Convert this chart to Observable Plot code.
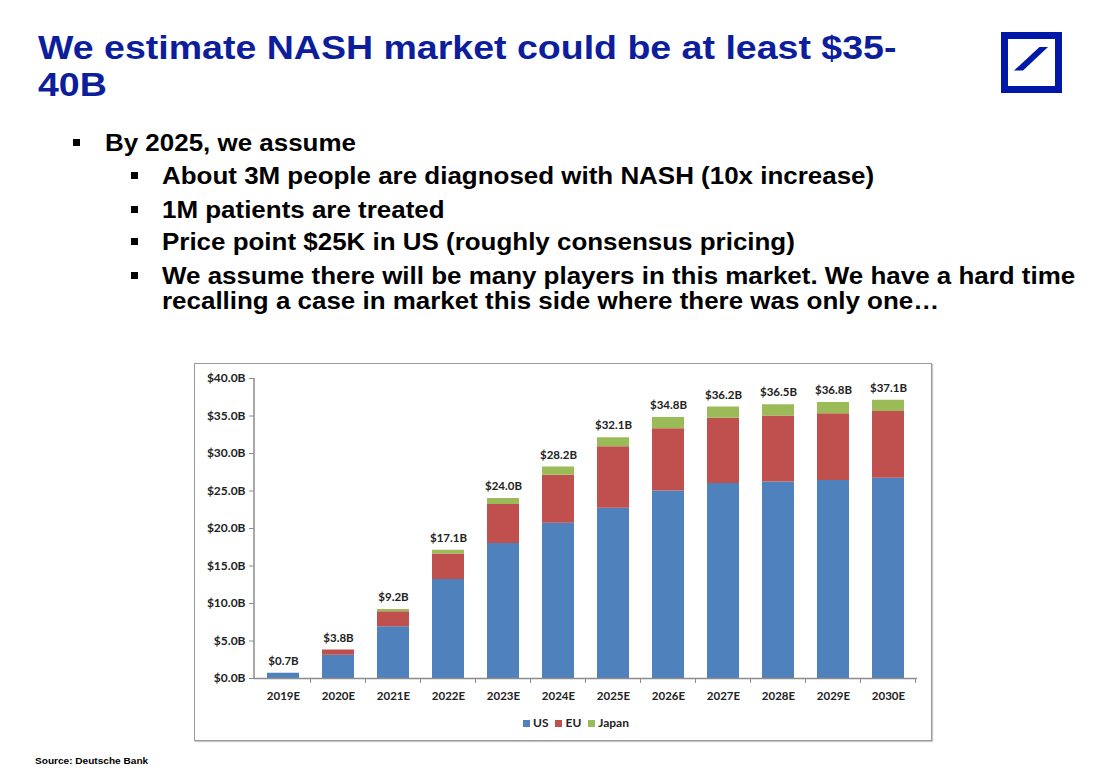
<!DOCTYPE html>
<html>
<head>
<meta charset="utf-8">
<script src="https://cdn.jsdelivr.net/npm/d3@7"></script>
<script src="https://cdn.jsdelivr.net/npm/@observablehq/plot@0.6"></script>
<style>
  html, body { margin: 0; padding: 0; background: #fff; }
  #page { position: relative; width: 1099px; height: 771px; overflow: hidden; font-family: "Liberation Sans", Arial, sans-serif; }
  .title { position: absolute; left: 38px; top: 29px; font-size: 33px; line-height: 37px; font-weight: bold; color: #0d1e9c; transform: scaleX(1.137); transform-origin: 0 0; white-space: nowrap; }
  .b { position: absolute; font-size: 23px; font-weight: bold; color: #000; line-height: 25px; white-space: nowrap; transform: scaleX(1.128); transform-origin: 0 0; }
  .sq { position: absolute; width: 7px; height: 7px; background: #000; }
  #logo { position: absolute; left: 1001px; top: 32px; width: 61px; height: 61px; }
  #box { position: absolute; left: 194px; top: 363px; width: 736px; height: 376px; border: 1px solid #9a9a9a; box-shadow: 1px 1px 1px #c8c8c8; }
  #chart { position: absolute; left: 0px; top: 0px; }
  #legend { position: absolute; left: 12px; width: 736px; top: 351px; text-align: center; font-family: Lato, "Liberation Sans", sans-serif; font-weight: bold; font-size: 12px; color: #222; }
  #legend span.k { display: inline-block; width: 7px; height: 7px; margin: 0 3px 0 2px; vertical-align: 0px; }
  .src { position: absolute; left: 35px; top: 756px; font-size: 9px; font-weight: bold; color: #000; transform: scaleX(1.12); transform-origin: 0 0; white-space: nowrap; }
</style>
</head>
<body>
<div id="page">
  <div class="title">We estimate NASH market could be at least $35-<br>40B</div>
  <svg id="logo" width="61" height="61" viewBox="0 0 61 61">
    <rect x="3.5" y="3.5" width="54" height="54" fill="none" stroke="#0018a8" stroke-width="7"/>
    <polygon points="38.5,15 47,15 22,38.5 13,38.5" fill="#0018a8"/>
  </svg>

  <div class="sq" style="left:73px;top:139px"></div>
  <div class="b" style="left:105px;top:131px">By 2025, we assume</div>

  <div class="sq" style="left:131px;top:172px"></div>
  <div class="b" style="left:162px;top:164px">About 3M people are diagnosed with NASH (10x increase)</div>

  <div class="sq" style="left:131px;top:206px"></div>
  <div class="b" style="left:162px;top:198px">1M patients are treated</div>

  <div class="sq" style="left:131px;top:238px"></div>
  <div class="b" style="left:162px;top:230px">Price point $25K in US (roughly consensus pricing)</div>

  <div class="sq" style="left:131px;top:272px"></div>
  <div class="b" style="left:162px;top:264px">We assume there will be many players in this market. We have a hard time<br>recalling a case in market this side where there was only one…</div>

  <div id="box">
    <div id="chart"></div>
    <div id="legend">
      <span class="k" style="background:#4f81bd"></span>US
      <span class="k" style="background:#c0504d;margin-left:4px"></span>EU
      <span class="k" style="background:#9bbb59;margin-left:4px"></span>Japan
    </div>
  </div>

  <div class="src">Source: Deutsche Bank</div>
</div>

<script>
const years = ["2019E","2020E","2021E","2022E","2023E","2024E","2025E","2026E","2027E","2028E","2029E","2030E"];
const us    = [0.7, 3.1, 6.9, 13.2, 18.0, 20.7, 22.7, 25.0, 26.0, 26.2, 26.4, 26.7];
const eu    = [0.0, 0.7, 2.0,  3.4,  5.2,  6.4,  8.2,  8.3,  8.7,  8.8,  8.9,  8.9];
const japan = [0.0, 0.0, 0.3,  0.5,  0.8,  1.1,  1.2,  1.5,  1.5,  1.5,  1.5,  1.5];
const totals = [0.7, 3.8, 9.2, 17.1, 24.0, 28.2, 32.1, 34.8, 36.2, 36.5, 36.8, 37.1];
const totalLabels = ["$0.7B","$3.8B","$9.2B","$17.1B","$24.0B","$28.2B","$32.1B","$34.8B","$36.2B","$36.5B","$36.8B","$37.1B"];
const seriesNames = ["US","EU","Japan"];
const seriesColors = ["#4f81bd","#c0504d","#9bbb59"];
const yTicks = [0,5,10,15,20,25,30,35,40];

const rows = [];
years.forEach((y, i) => {
  rows.push({year: y, series: "US", value: us[i]});
  rows.push({year: y, series: "EU", value: eu[i]});
  rows.push({year: y, series: "Japan", value: japan[i]});
});
const totalRows = years.map((y, i) => ({year: y, total: totals[i], label: totalLabels[i]}));

const font = "Lato, 'Liberation Sans', sans-serif";
const W = 736, H = 345;
const chart = Plot.plot({
  width: W, height: H,
  marginLeft: 59, marginRight: 14, marginTop: 14, marginBottom: 31,
  style: {fontFamily: font, fontSize: "12px", fontWeight: "bold", color: "#222", background: "transparent"},
  x: {domain: years, paddingInner: 0.42, paddingOuter: 0.21, label: null},
  y: {domain: [0, 40], label: null},
  color: {domain: seriesNames, range: seriesColors},
  marks: [
    Plot.barY(rows, {x: "year", y: "value", fill: "series"}),
    Plot.ruleY([0], {stroke: "#8c8c8c", strokeWidth: 1.5}),
    Plot.text(totalRows, {x: "year", y: "total", text: "label", dy: -12, fill: "#222", fontSize: 11.5, fontWeight: "bold"}),
    Plot.axisY({ticks: yTicks, tickFormat: d => "$" + d.toFixed(1) + "B", tickSize: 5, tickPadding: 4, stroke: "#8c8c8c", fill: "#222", fontSize: 12, label: null}),
    Plot.axisX({tickSize: 0, tickPadding: 13, fill: "#222", fontSize: 11.5, label: null})
  ]
});
document.getElementById("chart").appendChild(chart);

// axis line and between-category tick marks derived from the chart's scales
const xs = chart.scale("x"), ys = chart.scale("y");
const svg = d3.select(chart);
const y0 = ys.apply(0), y40 = ys.apply(40);
const x0 = xs.range[0];
svg.append("line").attr("x1", x0).attr("x2", x0).attr("y1", y0).attr("y2", y40)
  .attr("stroke", "#8c8c8c").attr("stroke-width", 1.5);
const bounds = years.map(y => xs.apply(y) + xs.bandwidth / 2 + xs.step / 2);
svg.append("g").selectAll("line").data(bounds).join("line")
  .attr("x1", d => d).attr("x2", d => d).attr("y1", y0).attr("y2", y0 + 5)
  .attr("stroke", "#8c8c8c").attr("stroke-width", 1);
</script>
</body>
</html>
